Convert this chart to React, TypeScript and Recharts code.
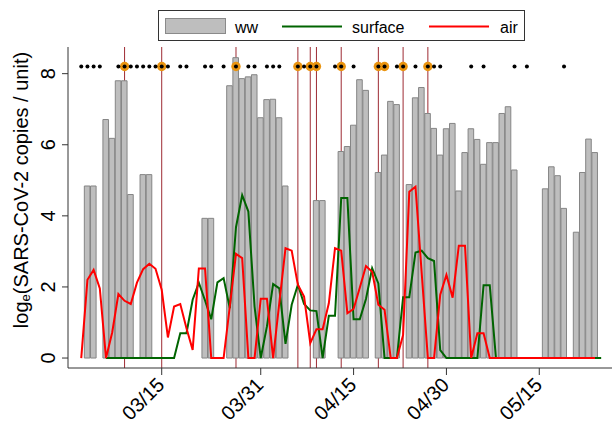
import React from "react";
import { Bar, ComposedChart, Line, ReferenceLine, Scatter, XAxis, YAxis } from "recharts";

// day index 0 = 02/29
const days = [
  0, 1, 2, 3, 4, 5, 6, 7, 8, 9, 10, 11, 12, 13, 14, 15, 16, 17, 18, 19, 20, 21, 22, 23, 24, 25, 26, 27, 28, 29,
  30, 31, 32, 33, 34, 35, 36, 37, 38, 39, 40, 41, 42, 43, 44, 45, 46, 47, 48, 49, 50, 51, 52, 53, 54, 55, 56, 57, 58, 59,
  60, 61, 62, 63, 64, 65, 66, 67, 68, 69, 70, 71, 72, 73, 74, 75, 76, 77, 78, 79, 80, 81, 82, 83, 84, 85, 86, 87,
];

const wwValues = [
  null, null, null, 4.84, 4.84, null, 6.71, 6.18, 7.8, 7.8,
  4.6, null, 5.16, 5.16, null, null, null, null, null, null,
  null, null, 3.93, 3.93, null, null, 7.66, 8.45, 7.86, 7.91,
  7.97, 6.76, 7.27, 7.28, 6.76, 4.84, null, null, null, null,
  4.43, 4.43, null, null, 5.81, 5.95, 6.55, 7.83, 7.53, null,
  5.22, 5.71, 7.22, 7.13, null, 4.88, 7.32, 7.61, 6.88, 6.46,
  5.71, 6.45, 6.6, 4.7, 5.78, 6.45, 6.15, 5.45, 6.06, 6.06,
  6.88, 7.07, 5.29, null, null, null, null, 4.76, 5.38, 5.13,
  4.21, null, 3.54, 5.22, 6.16, 5.78, null, null,
];

const surfaceValues = [
  null, null, null, null, null, null, 0, 0, 0, 0,
  0, 0, 0, 0, 0, 0, 0, 0, 0.7, 0.7,
  1.64, 2.12, 1.62, 1.09, 2.13, 2.25, 1.4, 3.68, 4.58, 4.12,
  1.45, 0, 0.89, 2.08, 1.96, 0.4, 1.5, 2.06, 1.52, 1.34,
  1.32, 0, 1.19, 1.19, 4.5, 4.5, 1.09, 1.09, 1.66, 2.53,
  2.1, 0, 0, 0, 1.71, 1.71, 2.97, 3.02, 2.81, 2.73,
  0.22, 0, 0, 0, 0, 0, 0, 2.05, 2.05, 0,
  0, 0, 0, 0, 0, 0, 0, 0, 0, 0,
  0, 0, 0, 0, 0, 0, 0, null,
];

const airValues = [
  null, null, 0, 2.2, 2.48, 1.96, 0, 0.72, 1.8, 1.61,
  1.52, 2.12, 2.5, 2.65, 2.51, 1.92, 0.58, 1.45, 1.52, 0.84,
  0.23, 2.52, 2.52, 0, 0, 0, 1.45, 2.93, 2.81, 0,
  0, 1.67, 1.67, 0, 1.55, 3.09, 3.02, 2.06, 1.73, 0.42,
  0.81, 0.81, 1.54, 3.09, 3.02, 1.26, 1.38, 1.98, 2.59, 2.43,
  1.5, 1.36, 0, 0, 0.65, 4.68, 4.82, 2.4, 0, 0,
  1.78, 2.34, 1.7, 3.16, 3.16, 0, 0.7, 0.7, 0, 0,
  0, 0, 0, 0, 0, 0, 0, 0, 0, 0,
  0, 0, 0, 0, 0, 0, null, null,
];

const sampleDays = [
  2, 3, 4, 5, 8, 9, 10, 11, 12, 13, 14, 15, 16, 18, 19, 22, 23, 25, 27, 29, 30, 32, 33, 34,
  37, 38, 39, 40, 43, 44, 46, 50, 51, 53, 54, 56, 58, 59, 60, 65, 67, 72, 74, 80,
];
const positiveDays = [9, 15, 27, 37, 39, 40, 44, 50, 51, 54, 58];
const eventDays = [9, 15, 27, 37, 39, 40, 44, 50, 54, 58];
const markerLevel = 8.2;

const tickDays = [15, 31, 46, 61, 76];
const tickLabels = ["03/15", "03/31", "04/15", "04/30", "05/15"];
const yTicks = [0, 2, 4, 6, 8];

const chartData = days.map((d, i) => ({
  day: d,
  ww: wwValues[i],
  surface: surfaceValues[i],
  air: airValues[i],
}));
const sampleData = sampleDays.map((d) => ({ day: d, y: markerLevel }));
const positiveData = positiveDays.map((d) => ({ day: d, y: markerLevel }));

const FONT = "'Liberation Sans', Arial, sans-serif";
const X_DOMAIN = [-0.14, 87.75];
const PLOT_W = 544;
const BAR_W = PLOT_W / (X_DOMAIN[1] - X_DOMAIN[0]);

const XTick = (props: any) => {
  const { x, y, payload } = props;
  const label = tickLabels[tickDays.indexOf(payload.value)];
  const tx = x + 4;
  const ty = y + 9;
  return (
    <text x={tx} y={ty} transform={`rotate(-45 ${tx} ${ty})`} textAnchor="end" fontSize={20} fontFamily={FONT} fill="#000">
      {label}
    </text>
  );
};

const YTick = (props: any) => {
  const { x, y, payload } = props;
  const tx = x - 5;
  return (
    <text x={tx} y={y} transform={`rotate(-90 ${tx} ${y})`} textAnchor="middle" fontSize={20} fontFamily={FONT} fill="#000">
      {payload.value}
    </text>
  );
};

const yTitle = () => (
  <text transform="rotate(-90)" x={-190} y={28} textAnchor="middle" fontSize={20} fontFamily={FONT} fill="#000">
    log
    <tspan fontSize={13} dy={2}>e</tspan>
    <tspan dy={-2}>(SARS-CoV-2 copies / unit)</tspan>
  </text>
);

const smallDot = (props: any) => <circle cx={props.cx} cy={props.cy} r={2} fill="#000" />;
const bigDot = (props: any) => <circle cx={props.cx} cy={props.cy} r={4.7} fill="#EA9410" />;

const legendItems = [
  { name: "ww", kind: "bar", color: "#BEBEBE" },
  { name: "surface", kind: "line", color: "#006400" },
  { name: "air", kind: "line", color: "#FF0000" },
];

const Legend = () => (
  <svg width={612} height={46} style={{ position: "absolute", left: 0, top: 0 }}>
    <rect x={158.5} y={10.5} width={366} height={30} fill="#fff" stroke="#333" />
    <rect x={165.5} y={18.5} width={60} height={15} fill={legendItems[0].color} stroke="#8a8a8a" />
    <text x={235} y={33} fontSize={16} fontFamily={FONT}>{legendItems[0].name}</text>
    <line x1={282} x2={342} y1={26.5} y2={26.5} stroke={legendItems[1].color} strokeWidth={2} />
    <text x={352} y={33} fontSize={16} fontFamily={FONT}>{legendItems[1].name}</text>
    <line x1={429} x2={489} y1={26.5} y2={26.5} stroke={legendItems[2].color} strokeWidth={2} />
    <text x={500} y={33} fontSize={16} fontFamily={FONT}>{legendItems[2].name}</text>
  </svg>
);

export default function App() {
  return (
    <div style={{ position: "absolute", left: 0, top: 0, width: 612, height: 423, background: "#fff", fontFamily: FONT }}>
      <ComposedChart
        width={612}
        height={423}
        data={chartData}
        margin={{ top: 47, right: 0, bottom: 0, left: 0 }}
        barCategoryGap={0}
        barGap={0}
      >
        <XAxis
          type="number"
          dataKey="day"
          domain={X_DOMAIN}
          allowDataOverflow
          ticks={tickDays}
          interval={0}
          height={55}
          tickSize={7}
          tickMargin={2}
          tick={<XTick />}
          stroke="#333"
        />
        <YAxis
          type="number"
          domain={[-0.28, 8.75]}
          allowDataOverflow
          ticks={yTicks}
          interval={0}
          width={68}
          tickSize={6}
          tickMargin={2}
          tick={<YTick />}
          stroke="#333"
          label={yTitle}
        />
        {eventDays.map((d) => (
          <ReferenceLine key={d} x={d} stroke="#9E2B33" strokeWidth={1} zIndex={250} />
        ))}
        <Bar dataKey="ww" fill="#BEBEBE" stroke="#858585" strokeWidth={1} barSize={BAR_W} isAnimationActive={false} />
        <Line type="linear" dataKey="surface" stroke="#006400" strokeWidth={2} dot={false} activeDot={false} isAnimationActive={false} />
        <Line type="linear" dataKey="air" stroke="#FF0000" strokeWidth={2} dot={false} activeDot={false} isAnimationActive={false} />
        <Scatter data={positiveData} dataKey="y" shape={bigDot} isAnimationActive={false} />
        <Scatter data={sampleData} dataKey="y" shape={smallDot} isAnimationActive={false} />
      </ComposedChart>
      <Legend />
    </div>
  );
}
